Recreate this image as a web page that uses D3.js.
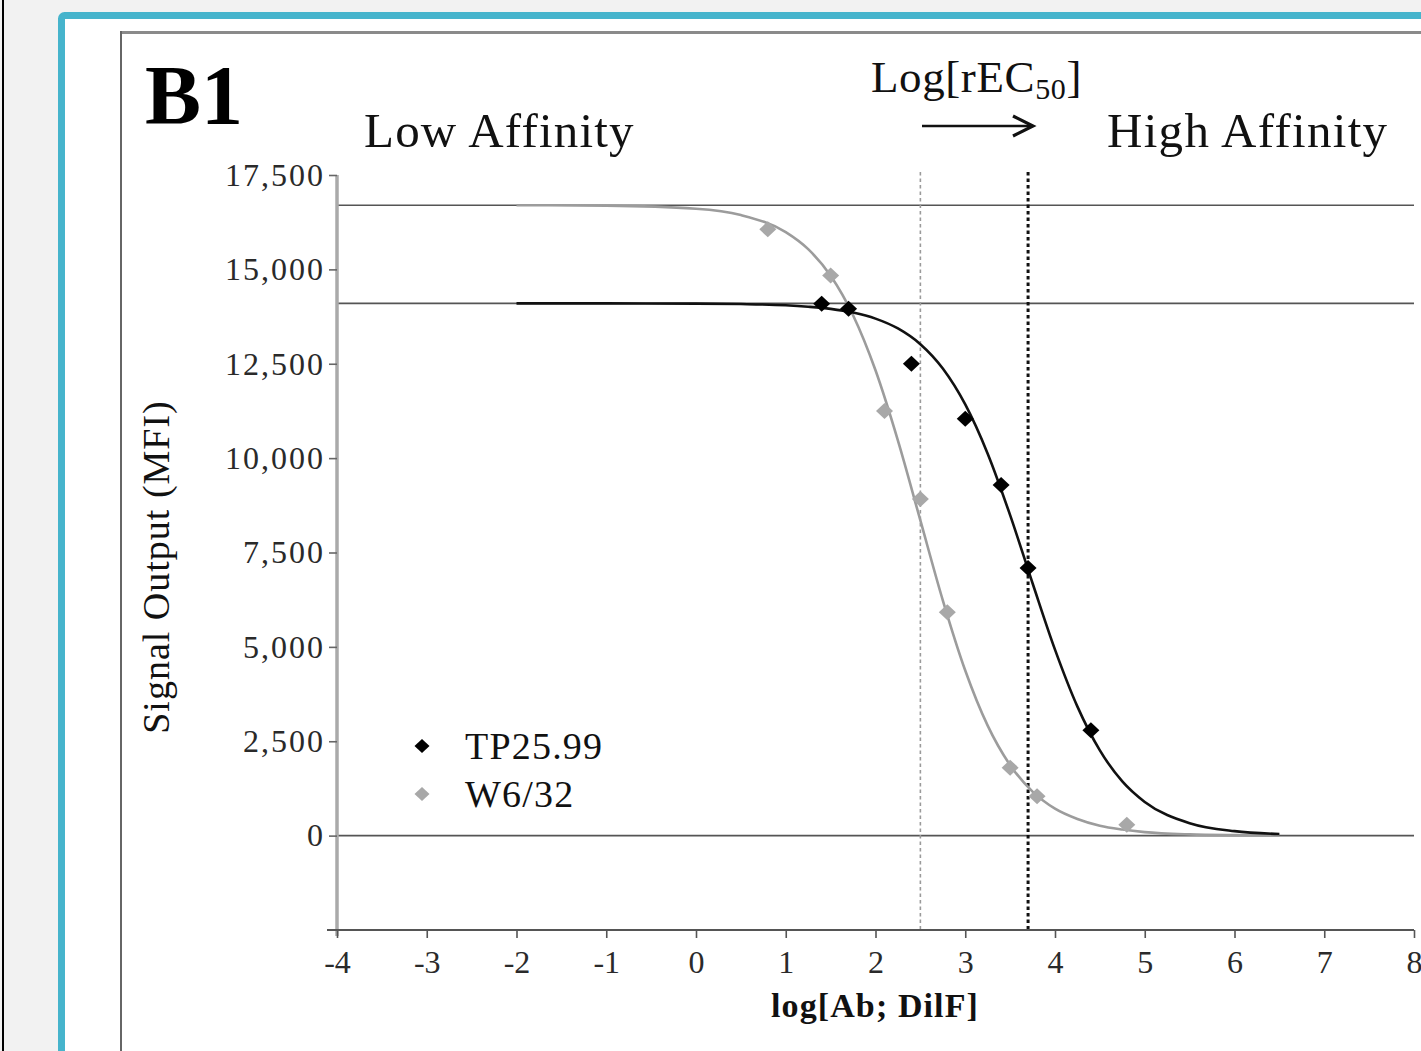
<!DOCTYPE html>
<html>
<head>
<meta charset="utf-8">
<script src="https://cdn.jsdelivr.net/npm/d3@7"></script>
<style>
  body { margin: 0; background: #f2f2f2; }
  svg { display: block; }
  text { font-family: "Liberation Serif", "Times New Roman", serif; }
</style>
</head>
<body>
<div id="chart"></div>
<script>
// measured points (x = log dilution, y = MFI)
const tpX = [1.4, 1.7, 2.4, 3.0, 3.4, 3.7, 4.4];
const tpY = [14090, 13960, 12500, 11040, 9290, 7090, 2790];
const w6X = [0.8, 1.5, 2.1, 2.5, 2.8, 3.5, 3.8, 4.8];
const w6Y = [16060, 14840, 11250, 8920, 5920, 1800, 1040, 290];

// fitted curves
const fitX = [-2, -1, 0, 0.5, 1, 1.25, 1.5, 1.75, 2, 2.25, 2.5, 2.75, 3, 3.25, 3.5, 3.75, 4, 4.25, 4.5, 4.75, 5, 5.5, 6, 6.5];
const tpFit = [14100, 14099, 14093, 14081, 14048, 14010, 13954, 13856, 13696, 13434, 13017, 12373, 11422, 10118, 8490, 6686, 4927, 3417, 2257, 1437, 893, 330, 119, 42];
const w6Fit = [16700, 16688, 16607, 16439, 15986, 15535, 14833, 13786, 12327, 10465, 8350, 6234, 4374, 2913, 1867, 1165, 714, 440, 260, 160, 93, 33, 12, 4];

// reference lines
const plateaus = [16700, 14100, 0];
const ec50s = [2.5, 3.7];

const xTicks = [-4, -3, -2, -1, 0, 1, 2, 3, 4, 5, 6, 7, 8];
const yTicks = [0, 2500, 5000, 7500, 10000, 12500, 15000, 17500];

const W = 1421, H = 1051;
const serif = "'Liberation Serif', 'Times New Roman', serif";
const svg = d3.select("#chart").append("svg")
    .attr("width", W)
    .attr("height", H);

// page frame
svg.append("rect").attr("x", 2).attr("y", 0).attr("width", 2).attr("height", H).attr("fill", "#000");
svg.append("rect")
    .attr("x", 61.5).attr("y", 15.5)
    .attr("width", W).attr("height", H + 50)
    .attr("rx", 3)
    .attr("fill", "#fff")
    .attr("stroke", "#46b4cc")
    .attr("stroke-width", 7);
svg.append("line").attr("x1", 120).attr("x2", W).attr("y1", 32.5).attr("y2", 32.5)
    .attr("stroke", "#8a8a8a").attr("stroke-width", 3);
svg.append("line").attr("x1", 121).attr("x2", 121).attr("y1", 31).attr("y2", H)
    .attr("stroke", "#666").attr("stroke-width", 2);

const x = d3.scaleLinear().domain([-4, 8]).range([337, 1414]);
const y = d3.scaleLinear().domain([-2500, 17500]).range([930, 175]);

// horizontal plateau lines
svg.selectAll(".plateau")
    .data(plateaus)
    .join("line")
    .attr("x1", x(-4)).attr("x2", x(8))
    .attr("y1", d => y(d)).attr("y2", d => y(d))
    .attr("stroke", "#555")
    .attr("stroke-width", 1.6);

// EC50 dotted lines
svg.selectAll(".ec50")
    .data(ec50s)
    .join("line")
    .attr("x1", d => x(d)).attr("x2", d => x(d))
    .attr("y1", 172).attr("y2", y(-2500))
    .attr("stroke", (d, i) => i === 0 ? "#9a9a9a" : "#111")
    .attr("stroke-width", (d, i) => i === 0 ? 1.6 : 3)
    .attr("stroke-dasharray", "3.5,3");

// y axis
const yAxis = svg.append("g")
    .attr("transform", `translate(${x(-4)},0)`)
    .call(d3.axisLeft(y).tickValues(yTicks).tickFormat(d3.format(",")).tickSize(8).tickPadding(4).tickSizeOuter(0));
yAxis.select(".domain").attr("stroke", "#aaa").attr("stroke-width", 3.5).attr("d", `M0,${y(17500)}V${y(-2500) + 6}`);
yAxis.selectAll(".tick line").attr("stroke", "#666").attr("stroke-width", 1.6);
yAxis.selectAll(".tick text")
    .attr("fill", "#2a2a2a")
    .style("font-family", serif)
    .style("font-size", "32px")
    .style("letter-spacing", "2px");

// x axis
const xAxis = svg.append("g")
    .attr("transform", `translate(0,${y(-2500)})`)
    .call(d3.axisBottom(x).tickValues(xTicks).tickFormat(d => String(d)).tickSize(8).tickPadding(12).tickSizeOuter(0));
xAxis.select(".domain").remove();
xAxis.selectAll(".tick line").attr("stroke", "#555").attr("stroke-width", 1.6);
xAxis.selectAll(".tick text")
    .attr("fill", "#2a2a2a")
    .style("font-family", serif)
    .style("font-size", "32px");
svg.append("line")
    .attr("x1", x(-4) - 10).attr("x2", x(8))
    .attr("y1", y(-2500)).attr("y2", y(-2500))
    .attr("stroke", "#555").attr("stroke-width", 2);

// fitted curves
const line = d3.line()
    .x(d => x(d[0]))
    .y(d => y(d[1]))
    .curve(d3.curveMonotoneX);

svg.append("path")
    .datum(fitX.map((v, i) => [v, w6Fit[i]]))
    .attr("fill", "none")
    .attr("stroke", "#9c9c9c")
    .attr("stroke-width", 2.6)
    .attr("d", line);

svg.append("path")
    .datum(fitX.map((v, i) => [v, tpFit[i]]))
    .attr("fill", "none")
    .attr("stroke", "#111")
    .attr("stroke-width", 2.6)
    .attr("d", line);

function diamond(w, h) {
    return `M0,${-h}L${w},0L0,${h}L${-w},0Z`;
}

// data points
svg.selectAll(".w6")
    .data(w6X.map((v, i) => [v, w6Y[i]]))
    .join("path")
    .attr("transform", d => `translate(${x(d[0])},${y(d[1])})`)
    .attr("d", diamond(8.5, 8))
    .attr("fill", "#a8a8a8");

svg.selectAll(".tp")
    .data(tpX.map((v, i) => [v, tpY[i]]))
    .join("path")
    .attr("transform", d => `translate(${x(d[0])},${y(d[1])})`)
    .attr("d", diamond(8.5, 8))
    .attr("fill", "#000");

// legend
const legend = [
    {name: "TP25.99", color: "#000"},
    {name: "W6/32", color: "#a8a8a8"}
];
const lg = svg.selectAll(".legend")
    .data(legend)
    .join("g")
    .attr("transform", (d, i) => `translate(422,${746 + i * 48})`);
lg.append("path").attr("d", diamond(7.5, 7)).attr("fill", d => d.color);
lg.append("text")
    .attr("x", 43).attr("y", 13)
    .attr("fill", "#111")
    .style("font-size", "38px")
    .style("letter-spacing", "1.2px")
    .text(d => d.name);

// axis titles
svg.append("text")
    .attr("transform", "translate(169,567) rotate(-90)")
    .attr("text-anchor", "middle")
    .attr("fill", "#111")
    .style("font-size", "38px")
    .style("letter-spacing", "1px")
    .text("Signal Output (MFI)");

svg.append("text")
    .attr("x", 875).attr("y", 1017)
    .attr("text-anchor", "middle")
    .attr("fill", "#111")
    .style("font-size", "34px")
    .style("font-weight", "bold")
    .style("letter-spacing", "1.1px")
    .text("log[Ab; DilF]");

// panel label and annotations
svg.append("text")
    .attr("x", 145).attr("y", 124)
    .attr("fill", "#000")
    .style("font-size", "84px")
    .style("font-weight", "bold")
    .text("B1");

svg.append("text")
    .attr("x", 364).attr("y", 147)
    .attr("fill", "#111")
    .style("font-size", "49px")
    .style("letter-spacing", "1.2px")
    .text("Low Affinity");

svg.append("text")
    .attr("x", 1107).attr("y", 147)
    .attr("fill", "#111")
    .style("font-size", "49px")
    .style("letter-spacing", "1.3px")
    .text("High Affinity");

const ec = svg.append("text")
    .attr("x", 871).attr("y", 92)
    .attr("fill", "#111")
    .style("font-size", "45px")
    .style("letter-spacing", "0.6px");
ec.append("tspan").text("Log[rEC");
ec.append("tspan").attr("dy", 7).style("font-size", "30px").text("50");
ec.append("tspan").attr("dy", -7).text("]");

// arrow
svg.append("line")
    .attr("x1", 922).attr("x2", 1030)
    .attr("y1", 126).attr("y2", 126)
    .attr("stroke", "#111").attr("stroke-width", 2.4);
svg.append("path")
    .attr("d", "M1013,116L1033,126L1013,136")
    .attr("fill", "none")
    .attr("stroke", "#111")
    .attr("stroke-width", 3.2)
    .attr("stroke-linejoin", "miter");
</script>
</body>
</html>
